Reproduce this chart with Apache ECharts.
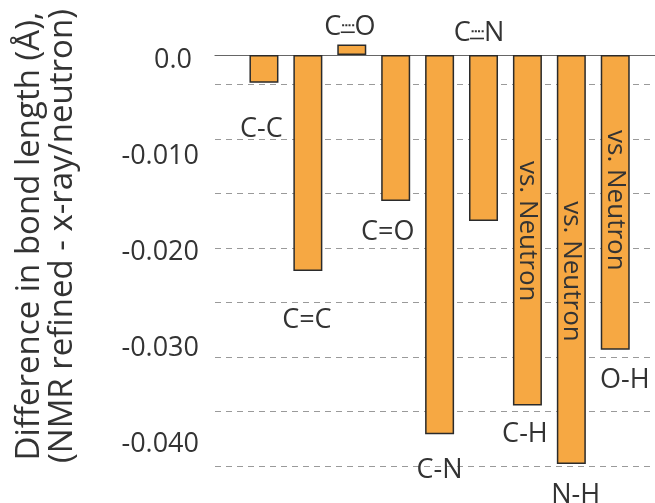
<!DOCTYPE html>
<html><head><meta charset="utf-8">
<script src="https://cdn.jsdelivr.net/npm/echarts@6/dist/echarts.min.js"></script>
<style>html,body{margin:0;padding:0;background:#fff}#c{width:655px;height:503px}</style>
</head><body><div id="c"></div>
<script>
// ---- data ----
const bonds = ['C-C', 'C=C', 'C\u2508O', 'C=O', 'C-N', 'C\u2508N', 'C-H', 'N-H', 'O-H'];
const diffValues = [-0.0029, -0.0225, 0.0011, -0.0152, -0.0395, -0.0173, -0.0365, -0.0426, -0.0307];
const comparedWith = ['x-ray', 'x-ray', 'x-ray', 'x-ray', 'x-ray', 'x-ray', 'neutron', 'neutron', 'neutron'];
const yTickValues = [0, -0.01, -0.02, -0.03, -0.04];
const yTickLabels = ['0.0 ', '-0.010', '-0.020', '-0.030', '-0.040'];
const axisTitle = 'Difference in bond length (\u00C5),\n(NMR refined - x-ray/neutron)';
const comparisonNote = 'vs. Neutron';

// ---- layout / style (not data) ----
const bondLabelPlace = [
  {position: 'bottom', distance: 31, offset: [-2.5, 0]},
  {position: 'bottom', distance: 34, offset: [-1, 0]},
  {position: 'top', distance: 11.4, offset: [-2, 0]},
  {position: 'bottom', distance: 16, offset: [-8, 0]},
  {position: 'bottom', distance: 21, offset: [0, 0]},
  {position: 'top', distance: 15.7, offset: [-4.5, 0]},
  {position: 'bottom', distance: 14, offset: [-2.5, 0]},
  {position: 'bottom', distance: 16, offset: [4.3, 0]},
  {position: 'bottom', distance: 16, offset: [9.5, 0]}
];
const noteOffsets = [null, null, null, null, null, null, [1, 0], [12, 0], [-2, 0]];

const TXT = '#333333';
const FONT = 'Open Sans';
const Y_MIN = -0.044, Y_MAX = 0.0026281;
const GRID_TOP = 29.77, GRID_H = 447.63;
const DASH_MAX = 8.2089;

const chart = echarts.init(document.getElementById('c'), null, {renderer: 'canvas'});

function tickFormatter(v) {
  for (let i = 0; i < yTickValues.length; i++) {
    if (Math.abs(v - yTickValues[i]) < 1e-9) return yTickLabels[i];
  }
  return '';
}
function bondRich(n) {
  const parts = n.split('\u2508');
  return '{t|' + parts[0] + '}{dot|\u2508}{t|' + parts[1] + '}\n{sol| }{sp| }';
}
const bondRichStyles = {
  t: {fontSize: 27, fontFamily: FONT, color: TXT, lineHeight: 9},
  dot: {fontSize: 22, fontFamily: 'DejaVu Sans', color: TXT, lineHeight: 9},
  sol: {width: 14, height: 1.6, lineHeight: 1.6, fontSize: 2, backgroundColor: TXT, align: 'center'},
  sp: {width: 4, height: 1.6, lineHeight: 1.6, fontSize: 2, align: 'center'}
};

const mainData = diffValues.map((v, i) => ({
  value: v,
  label: bondLabelPlace[i]
}));
const noteData = diffValues.map((v, i) => comparedWith[i] === 'neutron'
  ? {value: v, label: {offset: noteOffsets[i]}}
  : {value: null});

chart.setOption({
  animation: false,
  textStyle: {fontFamily: FONT},
  grid: [
    {left: 215, right: 0, top: GRID_TOP, height: GRID_H, outerBoundsMode: 'none'},
    {left: 242, right: 17.8, top: GRID_TOP, height: GRID_H, outerBoundsMode: 'none'},
    {left: 215, right: 0, top: 0, height: 472, outerBoundsMode: 'none'}
  ],
  xAxis: [
    {gridIndex: 0, type: 'value', min: 0, max: 1,
     axisLine: {show: true, onZero: true, onZeroAxisIndex: 0, lineStyle: {color: '#666', width: 1.2}},
     axisTick: {show: false}, axisLabel: {show: false}, splitLine: {show: false}},
    {gridIndex: 1, type: 'category', data: bonds, show: false},
    {gridIndex: 2, type: 'value', min: 0, max: 1, show: false}
  ],
  yAxis: [
    {gridIndex: 0, type: 'value', min: Y_MIN, max: Y_MAX, interval: 0.002,
     axisLine: {show: false}, axisTick: {show: false}, splitLine: {show: false},
     axisLabel: {formatter: tickFormatter, fontSize: 27, fontFamily: FONT, color: TXT,
                 margin: 16, verticalAlign: 'top', lineHeight: 10}},
    {gridIndex: 0, type: 'value', min: 0, max: DASH_MAX, interval: 1, inverse: true,
     axisLine: {show: false}, axisTick: {show: false}, axisLabel: {show: false},
     splitLine: {show: true, showMinLine: false, showMaxLine: false,
                 lineStyle: {color: '#9a9a9a', width: 1, type: [6, 5]}}},
    {gridIndex: 1, type: 'value', min: Y_MIN, max: Y_MAX, show: false},
    {gridIndex: 2, type: 'value', min: 0, max: 1,
     axisLine: {show: false}, axisTick: {show: false}, axisLabel: {show: false}, splitLine: {show: false},
     name: axisTitle, nameLocation: 'middle', nameRotate: 90, nameGap: 135.5,
     nameTextStyle: {fontSize: 33, fontFamily: FONT, color: TXT, lineHeight: 33}}
  ],
  series: [
    {
      type: 'bar', xAxisIndex: 1, yAxisIndex: 2, barWidth: 29, barGap: '-100%',
      data: mainData,
      itemStyle: {color: '#F6A843', borderColor: '#2b2b2b', borderWidth: 1.5},
      label: {
        show: true, fontSize: 27, fontFamily: FONT, color: TXT, lineHeight: 30, align: 'center',
        formatter: function (p) {
          return p.name.indexOf('\u2508') >= 0 ? bondRich(p.name) : p.name;
        },
        rich: bondRichStyles
      }
    },
    {
      type: 'bar', xAxisIndex: 1, yAxisIndex: 2, barWidth: 29, barGap: '-100%',
      data: noteData, silent: true, z: 3,
      itemStyle: {color: 'rgba(0,0,0,0)', borderWidth: 0},
      label: {show: true, position: 'inside', rotate: -90, formatter: comparisonNote,
              fontSize: 26, fontFamily: FONT, color: TXT}
    }
  ]
});
</script>
</body></html>
